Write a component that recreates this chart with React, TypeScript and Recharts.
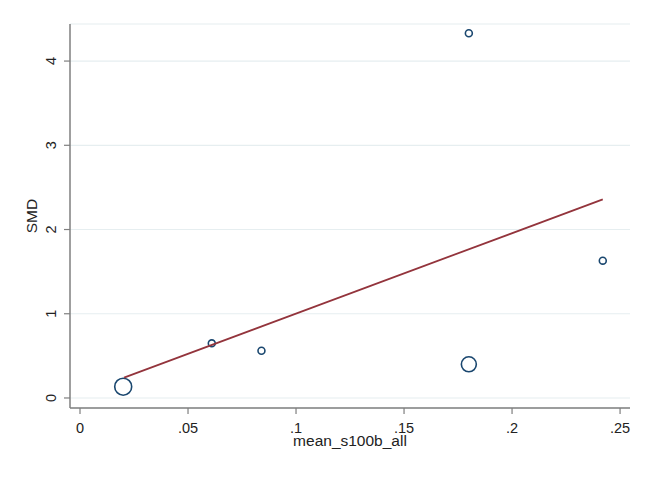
import React from 'react';
import {
  ScatterChart,
  Scatter,
  XAxis,
  YAxis,
  CartesianGrid,
} from 'recharts';

// study-level values
const meanS100b = [0.02, 0.061, 0.084, 0.18, 0.18, 0.242];
const smdValues = [0.134, 0.649, 0.561, 4.33, 0.40, 1.63];
const studyWeights = [72, 12, 12, 12, 56, 12];

// fitted meta-regression line (endpoints at the data range)
const fitX = [0.0204, 0.242];
const fitY = [0.241, 2.358];

const xTicks = [0, 0.05, 0.1, 0.15, 0.2, 0.25];
const xTickLabels = ['0', '.05', '.1', '.15', '.2', '.25'];
const yTicks = [0, 1, 2, 3, 4];

const FONT = 'Arial, "Liberation Sans", sans-serif';
const NAVY = '#1a476f';
const MAROON = '#93343c';
const GRID = '#e6eef0';
const AXIS = '#7f7f7f';

const points = meanS100b.map((x, i) => ({ x, y: smdValues[i], w: studyWeights[i] }));
const fitLine = fitX.map((x, i) => ({ x, y: fitY[i] }));

function Bubble(props: any) {
  const { cx, cy, payload } = props;
  if (cx == null || cy == null) return <g />;
  return (
    <circle cx={cx} cy={cy} r={Math.sqrt(payload.w)} fill="none" stroke={NAVY} strokeWidth={1.6} />
  );
}

function XTick(props: any) {
  const { x, y, payload } = props;
  const idx = xTicks.indexOf(payload.value);
  return (
    <text x={x} y={y + 17} textAnchor="middle" fontSize={14.5} fill="#222" fontFamily={FONT}>
      {idx >= 0 ? xTickLabels[idx] : payload.value}
    </text>
  );
}

function YTick(props: any) {
  const { x, y, payload } = props;
  const tx = x - 6;
  return (
    <text
      x={tx}
      y={y}
      transform={`rotate(-90 ${tx} ${y})`}
      textAnchor="middle"
      fontSize={14.5}
      fill="#222"
      fontFamily={FONT}
    >
      {payload.value}
    </text>
  );
}

export default function App() {
  return (
    <div
      style={{
        position: 'absolute',
        left: 0,
        top: 0,
        width: 653,
        height: 478,
        background: '#fff',
        fontFamily: FONT,
      }}
    >
      <ScatterChart width={653} height={478} margin={{ top: 24, right: 23, bottom: 0, left: 0 }}>
        <CartesianGrid horizontal vertical={false} stroke={GRID} strokeWidth={1.2} />
        <XAxis
          type="number"
          dataKey="x"
          domain={[-0.00463, 0.2546]}
          allowDataOverflow
          ticks={xTicks}
          height={70}
          tickSize={6}
          tickMargin={2}
          tick={<XTick />}
          axisLine={{ stroke: AXIS, strokeWidth: 1.5 }}
          tickLine={{ stroke: AXIS, strokeWidth: 1.2 }}
          label={(p: any) => {
            const vb = p.viewBox;
            return (
              <text
                x={vb.x + vb.width / 2}
                y={vb.y + 38}
                textAnchor="middle"
                fontSize={15.5}
                fill="#222"
                fontFamily={FONT}
              >
                mean_s100b_all
              </text>
            );
          }}
        />
        <YAxis
          type="number"
          dataKey="y"
          domain={[-0.119, 4.44]}
          allowDataOverflow
          ticks={yTicks}
          width={70}
          tickSize={6}
          tickMargin={2}
          tick={<YTick />}
          axisLine={{ stroke: AXIS, strokeWidth: 1.5 }}
          tickLine={{ stroke: AXIS, strokeWidth: 1.2 }}
          label={(p: any) => {
            const vb = p.viewBox;
            const lx = vb.x + 37;
            const ly = vb.y + vb.height / 2;
            return (
              <text
                x={lx}
                y={ly}
                transform={`rotate(-90 ${lx} ${ly})`}
                textAnchor="middle"
                fontSize={15.5}
                fill="#222"
                fontFamily={FONT}
              >
                SMD
              </text>
            );
          }}
        />
        <Scatter data={points} shape={<Bubble />} isAnimationActive={false} />
        <Scatter
          data={fitLine}
          line={{ stroke: MAROON, strokeWidth: 1.8 }}
          shape={() => <g />}
          isAnimationActive={false}
        />
      </ScatterChart>
    </div>
  );
}
